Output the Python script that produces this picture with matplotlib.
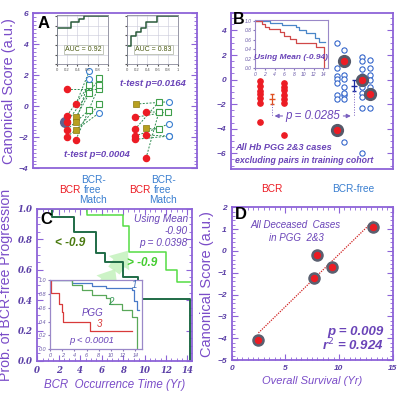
import numpy as np
import matplotlib.pyplot as plt
from matplotlib.ticker import MultipleLocator

plt.rcParams['font.family'] = ['Liberation Sans', 'DejaVu Sans']

# colours
frame_c = '#8d63d8'
tick_c = '#5a3ea6'
lab_c = '#7a4cc8'
red = '#ec1c24'
olive = '#b8a020'
blue = '#3a7fd0'
sq_green = '#3f9f4a'
km_dark = '#1f6b46'
km_light = '#55dd44'

# ---------------- data ----------------
# Panel A, group 1 (training cohort pairs)
g1_bcr = [1.1, 0.15, -0.6, -1.0, -0.7, -1.0, -1.55, -1.5, -1.95, -2.15]
g1_bcr_kind = ['r', 'r', 'r', 'r', 'o', 'o', 'o', 'r', 'r', 'r']
g1_match = [1.1, 2.28, 1.37, 1.8, 0.84, 1.74, 0.13, -0.24, -0.41, 1.37]
g1_match_kind = ['g', 'b', 'g', 'g', 'g', 'b', 'g', 'g', 'b', 'g']
# Panel A, group 2
g2_bcr = [0.15, -0.39, -0.71, -1.42, -1.48, -1.92, -1.85, -3.35, -2.13]
g2_bcr_kind = ['o', 'r', 'r', 'o', 'r', 'r', 'r', 'r', 'r']
g2_match = [0.3, -0.35, -0.35, -1.48, 0.3, -1.14, -1.92, -0.35, -1.92]
g2_match_kind = ['b', 'g', 'g', 'g', 'g', 'b', 'b', 'g', 'b']
a_highlight = -1.0
a_tests = ['t-test p=0.0004', 't-test p=0.0164']

# ROC insets
roc1_fpr = [0, 0, 0.27, 0.27, 0.43, 0.43, 0.52, 0.52, 1]
roc1_tpr = [0, 0.76, 0.76, 0.87, 0.87, 0.93, 0.93, 1, 1]
roc2_fpr = [0, 0, 0.085, 0.085, 0.18, 0.18, 0.28, 0.28, 0.38, 0.38, 0.58, 0.58, 1]
roc2_tpr = [0, 0.37, 0.37, 0.58, 0.58, 0.67, 0.67, 0.76, 0.76, 0.87, 0.87, 1, 1]
auc_labels = ['AUC = 0.92', 'AUC = 0.83']

# Panel B
b_bcr_col1 = [-0.1, -0.51, -0.89, -1.19, -1.52, -1.87, -3.45]
b_bcr_col2 = [-0.24, -0.62, -0.84, -1.25, -1.55, -1.93, -4.51]
b_free_cols = [
    [2.98, 0.93, 0.31, 0.04, -0.24, -1.25, -1.6],
    [2.43, 1.48, 0.39, 0.04, -0.62, -1.25, -1.6, -1.11, -5.06],
    [1.83, 1.48, 0.85, 0.31, -0.02, -0.62, -1.11, -1.4, -2.34, -6.01],
    [1.62, 0.93, 0.39, -0.02, -0.62, -1.16, -2.34],
]
b_big = [(1, 1.48), (2, -0.02), (3, -1.16), (0, -4.1)]
b_mean = [-1.6, -0.5]
b_err = [0.4, 0.45]
b_p = 'p = 0.0285'

# Panel B inset KM
bk_blue_t = [0, 3.1, 5.6, 8.3, 9.0, 10.4, 12.2, 13.2, 14.4]
bk_blue_s = [1.0, 0.95, 0.92, 0.87, 0.81, 0.75, 0.65, 0.56, 0.56]
bk_red_t = [0, 1.4, 2.1, 2.8, 5.2, 5.9, 7.1, 8.3, 12.4, 14.2]
bk_red_s = [1.0, 0.94, 0.88, 0.82, 0.77, 0.68, 0.61, 0.54, 0.45, 0.0]

# Panel C
c_low_t = [0, 1.4, 3.4, 5.5, 6.3, 8.0, 9.4, 14.2]
c_low_s = [1.0, 0.95, 0.85, 0.71, 0.65, 0.555, 0.41, 0.0]
c_high_t = [0, 4.6, 8.0, 8.6, 12.0, 13.0, 14.2]
c_high_s = [1.0, 0.96, 0.89, 0.72, 0.6, 0.52, 0.52]
# Panel C inset (PGG groups)
ci1_t = [0, 3.6, 6.9, 9.1, 13.5, 13.8, 14.2, 14.6]
ci1_s = [1.0, 0.95, 0.92, 0.88, 0.86, 0.69, 0.56, 0.56]
ci2_t = [0, 3.6, 5.2, 6.9, 9.1, 9.9, 11.8, 13.5, 14.3]
ci2_s = [1.0, 0.93, 0.86, 0.78, 0.74, 0.66, 0.57, 0.47, 0.0]
ci3_t = [0, 0.2, 1.4, 1.9, 2.2, 6.6, 13.4]
ci3_s = [1.0, 0.81, 0.66, 0.54, 0.4, 0.26, 0.26]

# Panel D
d_surv = [2.5, 7.7, 8.0, 9.4, 13.2]
d_score = [-4.1, -1.25, -0.2, -0.75, 1.1]


def style(ax):
    for s in ax.spines.values():
        s.set_color(frame_c)
        s.set_linewidth(1.3)
    ax.tick_params(which='both', direction='in', colors=frame_c, top=True, right=True,
                   labelcolor=tick_c, labelsize=6)
    ax.tick_params(which='major', length=4)
    ax.tick_params(which='minor', length=2)
    for t in ax.get_xticklabels() + ax.get_yticklabels():
        t.set_fontweight('bold')
        t.set_fontstyle('italic')


fig = plt.figure(figsize=(4.0, 3.96), dpi=100)

# ================= Panel A =================
axA = fig.add_axes([0.0825, 0.575, 0.41, 0.391])
axA.set_xlim(0, 10)
axA.set_ylim(-4, 6)
axA.yaxis.set_major_locator(MultipleLocator(2))
axA.yaxis.set_minor_locator(MultipleLocator(0.25))
axA.set_xticks([])
style(axA)
axA.tick_params(axis='x', which='both', bottom=False, top=False)


def pair_group(ax, bcr, bkind, bx, match, mkind, mx):
    for i in range(len(bcr)):
        ax.plot([bx[i], mx[i]], [bcr[i], match[i]], ls=(0, (2, 1.5)), color='#2e8a50', lw=0.7, zorder=2)
    for i in range(len(match)):
        if mkind[i] == 'g':
            ax.plot(mx[i], match[i], 's', ms=4.2, mfc='white', mec=sq_green, mew=0.8, zorder=3)
        else:
            ax.plot(mx[i], match[i], 'o', ms=4.3, mfc='white', mec=blue, mew=0.8, zorder=3)
    for i in range(len(bcr)):
        if bkind[i] == 'r':
            ax.plot(bx[i], bcr[i], 'o', ms=4.4, color=red, zorder=4)
        else:
            ax.plot(bx[i], bcr[i], 's', ms=4.6, mfc=olive, mec='#8a7a10', mew=0.5, zorder=4)


g1_bx = [2.07, 2.62, 2.07, 2.07, 2.62, 2.62, 2.62, 2.07, 2.07, 2.62]
g1_mx = [4.05, 3.43, 3.43, 4.05, 3.43, 3.43, 4.05, 3.43, 4.05, 4.05]
g2_bx = [6.28, 6.89, 6.22, 6.89, 6.22, 6.22, 6.89, 6.89, 6.22]
g2_mx = [8.29, 7.68, 8.23, 7.68, 7.68, 8.29, 8.29, 7.68, 8.29]
axA.plot(1.95, a_highlight, 'o', ms=7, color='#5c6390', zorder=3.5)
pair_group(axA, g1_bcr, g1_bcr_kind, g1_bx, g1_match, g1_match_kind, g1_mx)
pair_group(axA, g2_bcr, g2_bcr_kind, g2_bx, g2_match, g2_match_kind, g2_mx)

axA.text(3.9, -3.08, a_tests[0], color='#6a44b8', fontsize=6.8, fontweight='bold',
         style='italic', ha='center', va='center')
axA.text(7.3, 1.5, a_tests[1], color='#6a44b8', fontsize=6.8, fontweight='bold',
         style='italic', ha='center', va='center')
axA.text(0.25, 5.05, 'A', fontsize=12, fontweight='bold', color='black')
axA.set_ylabel('Canonical Score (a.u.)', color=lab_c, fontsize=10.5, labelpad=2)

# category labels under A
for xc in [2.26, 6.52]:
    axA.text(xc, -5.4, 'BCR', color=red, fontsize=7.3, ha='center', va='center')
for xc in [3.66, 7.93]:
    axA.text(xc, -5.4, 'BCR-\nfree\nMatch', color=blue, fontsize=7.3, ha='center',
             va='center', linespacing=1.05)

# ROC insets
for k, (fpr, tpr, left) in enumerate([(roc1_fpr, roc1_tpr, 0.1417), (roc2_fpr, roc2_tpr, 0.3167)]):
    ai = fig.add_axes([left, 0.838, 0.129, 0.124])
    ai.plot(fpr, tpr, color='#2a5a3a', lw=1.1)
    ai.set_xlim(0, 1)
    ai.set_ylim(0, 1.02)
    ai.set_xticks([0, 0.2, 0.4, 0.6, 0.8, 1])
    ai.set_xticklabels(['0', '0.2', '0.4', '0.6', '0.8', '1'])
    ai.set_yticks([0, 0.2, 0.4, 0.6, 0.8, 1])
    ai.set_yticklabels([])
    ai.grid(color='#c8c8d8', lw=0.4)
    ai.tick_params(labelsize=3, length=1.5, pad=1, colors='#555555')
    for s in ai.spines.values():
        s.set_color('#888899')
        s.set_linewidth(0.6)
    ai.text(0.52, 0.3, auc_labels[k], fontsize=5, color='#4a5a10', ha='center', va='center',
            bbox=dict(boxstyle='square,pad=0.15', fc='white', ec='#aab0a0', lw=0.5))

# ================= Panel B =================
axB = fig.add_axes([0.577, 0.5725, 0.4066, 0.394])
axB.set_xlim(0, 10)
axB.set_ylim(-7.3, 5.4)
axB.yaxis.set_major_locator(MultipleLocator(2))
axB.yaxis.set_minor_locator(MultipleLocator(0.5))
axB.set_xticks([])
style(axB)
axB.tick_params(axis='x', which='both', bottom=False, top=False)

bcr_x = [1.78, 3.25]
free_x = [6.5, 6.99, 8.04, 8.53]
axB.plot([bcr_x[0]] * len(b_bcr_col1), b_bcr_col1, 'o', ms=3.8, color=red)
axB.plot([bcr_x[1]] * len(b_bcr_col2), b_bcr_col2, 'o', ms=3.8, color=red)
for xc, col in zip(free_x, b_free_cols):
    axB.plot([xc] * len(col), col, 'o', ms=3.8, mfc='white', mec='#2a5ec8', mew=0.75)
for ci, yv in b_big:
    axB.plot(free_x[ci], yv, 'o', ms=8.5, color='#555a6a', zorder=4)
    axB.plot(free_x[ci], yv, 'o', ms=4.3, color=red, zorder=5)

mean_x = [2.52, 7.55]
axB.errorbar(mean_x[0], b_mean[0], yerr=b_err[0], fmt='_', color='#e05020', ms=4,
             capsize=1.5, lw=0.9)
axB.errorbar(mean_x[1], b_mean[1], yerr=b_err[1], fmt='_', color='#1a2aa0', ms=4,
             capsize=1.5, lw=0.9)
p_y = -2.96
axB.plot([mean_x[0], mean_x[0]], [b_mean[0] - b_err[0], p_y], ls=':', color='#7a60c0', lw=0.7)
axB.plot([mean_x[1], mean_x[1]], [b_mean[1] - b_err[1], p_y], ls=':', color='#7a60c0', lw=0.7)
axB.annotate('', xy=(mean_x[0], p_y), xytext=(3.35, p_y),
             arrowprops=dict(arrowstyle='-|>', color='#7a60c0', lw=0.8, mutation_scale=6))
axB.annotate('', xy=(mean_x[1], p_y), xytext=(6.75, p_y),
             arrowprops=dict(arrowstyle='-|>', color='#7a60c0', lw=0.8, mutation_scale=6))
axB.text(5.05, p_y, b_p, color='#6a44b8', fontsize=8.3, style='italic', ha='center', va='center')
axB.text(0.25, -5.75, 'All Hb PGG 2&3 cases', color='#6a44b8', fontsize=6.6, style='italic',
         fontweight='bold')
axB.text(0.25, -6.75, 'excluding pairs in training cohort', color='#6a44b8', fontsize=6.3,
         style='italic', fontweight='bold')
axB.text(0.15, 4.55, 'B', fontsize=11.5, fontweight='bold', color='black')
axB.text(mean_x[0], -8.9, 'BCR', color=red, fontsize=7.3, ha='center', va='center')
axB.text(mean_x[1], -8.9, 'BCR-free', color=blue, fontsize=7.3, ha='center', va='center')

# B inset
bi = fig.add_axes([0.6375, 0.8275, 0.183, 0.122])
bi.step(bk_blue_t, bk_blue_s, where='post', color='#4a86c8', lw=0.9)
bi.step(bk_red_t, bk_red_s, where='post', color='#d04848', lw=0.9)
bi.set_xlim(0, 15)
bi.set_ylim(0, 1.02)
bi.set_xticks(range(0, 15, 2))
bi.set_yticks([0, 0.2, 0.4, 0.6, 0.8, 1.0])
bi.set_yticklabels(['0.0', '0.2', '0.4', '0.6', '0.8', '1.0'])
bi.tick_params(labelsize=3.6, length=1.5, pad=0.8, colors='#8878b8', labelcolor='#6a5aa8')
for t in bi.get_xticklabels() + bi.get_yticklabels():
    t.set_fontstyle('italic')
for s in bi.spines.values():
    s.set_color('#9a88c8')
    s.set_linewidth(0.8)
bi.text(7.4, 0.23, 'Using Mean (-0.94)', color='#6a44b8', fontsize=6, style='italic',
        fontweight='bold', ha='center', va='center')

# ================= Panel C =================
axC = fig.add_axes([0.0932, 0.0884, 0.386, 0.384])
axC.step(c_low_t, c_low_s, where='post', color=km_dark, lw=1.4)
axC.step(c_high_t, c_high_s, where='post', color=km_light, lw=1.1)
axC.set_xlim(0, 14.4)
axC.set_ylim(0, 1.0)
axC.xaxis.set_major_locator(MultipleLocator(2))
axC.xaxis.set_minor_locator(MultipleLocator(0.5))
axC.yaxis.set_major_locator(MultipleLocator(0.2))
axC.yaxis.set_minor_locator(MultipleLocator(0.05))
axC.yaxis.set_major_formatter(lambda v, p: f'{v:.1f}')
style(axC)
for t in axC.get_xticklabels() + axC.get_yticklabels():
    t.set_fontfamily('DejaVu Serif')
    t.set_fontsize(6.2)
axC.set_ylabel('Prob. of BCR-free Progression', color=lab_c, fontsize=10.2, labelpad=3)
axC.set_xlabel('BCR  Occurrence Time (Yr)', color=lab_c, fontsize=8.3, style='italic', labelpad=3)
axC.text(0.3, 0.9, 'C', fontsize=12, fontweight='bold', color='black')
axC.text(14.05, 0.935, 'Using Mean', color='#6a44b8', fontsize=7.3, style='italic', ha='right', va='center')
axC.text(14.05, 0.855, '-0.90', color='#6a44b8', fontsize=7.3, style='italic', ha='right', va='center')
axC.text(14.05, 0.775, 'p = 0.0398', color='#6a44b8', fontsize=7.3, style='italic', ha='right', va='center')
axC.text(3.1, 0.775, '< -0.9', color='#4a7a10', fontsize=8.5, fontweight='bold', style='italic',
         ha='center', va='center')
axC.text(9.8, 0.645, '> -0.9', color='#44cc30', fontsize=8.5, fontweight='bold', style='italic',
         ha='center', va='center')
for (x0, y0, x1, y1) in [(5.9, 0.45, 7.4, 0.62), (7.0, 0.58, 8.6, 0.74)]:
    axC.annotate('', xy=(x1, y1), xytext=(x0, y0),
                 arrowprops=dict(arrowstyle='simple,head_width=1.8,head_length=1.1,tail_width=1.0',
                                 color='#c4f2bc', alpha=0.85, lw=0), zorder=1)

# C inset
cix = fig.add_axes([0.125, 0.118, 0.229, 0.175])
cix.step(ci1_t, ci1_s, where='post', color='#4a7ac8', lw=0.9)
cix.step(ci2_t, ci2_s, where='post', color='#5aa85a', lw=0.9)
cix.step(ci3_t, ci3_s, where='post', color='#d83a3a', lw=0.9)
cix.set_xlim(0, 15)
cix.set_ylim(0, 1.0)
cix.set_xticks(range(0, 15, 2))
cix.set_yticks([0, 0.2, 0.4, 0.6, 0.8, 1.0])
cix.set_yticklabels(['0.0', '0.2', '0.4', '0.6', '0.8', '1.0'])
cix.tick_params(labelsize=4, length=1.5, pad=1, colors='#8878b8', labelcolor='#6a5aa8')
for t in cix.get_xticklabels() + cix.get_yticklabels():
    t.set_fontstyle('italic')
for s in cix.spines.values():
    s.set_color('#9a88c8')
    s.set_linewidth(0.9)
cix.text(13.8, 0.93, '1', color='#3a6ab8', fontsize=7, style='italic', ha='center', va='center')
cix.text(9.9, 0.68, '2', color='#3a9a5a', fontsize=7, style='italic', ha='center', va='center')
cix.text(6.9, 0.52, 'PGG', color='#6a44b8', fontsize=7, style='italic', ha='center', va='center')
cix.text(8.1, 0.36, '3', color='#d83a3a', fontsize=7, style='italic', ha='center', va='center')
cix.text(6.9, 0.13, 'p < 0.0001', color='#6a44b8', fontsize=6.8, style='italic', ha='center', va='center')

# ================= Panel D =================
axD = fig.add_axes([0.579, 0.0909, 0.4025, 0.3856])
m, c = np.polyfit(d_surv, d_score, 1)
xs = np.array([min(d_surv), max(d_surv)])
axD.plot(xs, m * xs + c, ls=(0, (1, 1)), color='#d02020', lw=0.9)
axD.plot(d_surv, d_score, 'o', ms=8, color='#5a6070', zorder=3)
axD.plot(d_surv, d_score, 'o', ms=4.3, color=red, zorder=4)
axD.set_xlim(0, 15)
axD.set_ylim(-5, 2)
axD.xaxis.set_major_locator(MultipleLocator(5))
axD.xaxis.set_minor_locator(MultipleLocator(0.5))
axD.yaxis.set_major_locator(MultipleLocator(1))
axD.yaxis.set_minor_locator(MultipleLocator(0.2))
style(axD)
axD.set_ylabel('Canonical Score (a.u.)', color=lab_c, fontsize=10.5, labelpad=2)
axD.set_xlabel('Overall Survival (Yr)', color=lab_c, fontsize=8, style='italic', labelpad=3)
axD.text(0.35, 1.45, 'D', fontsize=12, fontweight='bold', color='black')
axD.text(6.0, 0.9, 'All Deceased  Cases\nin PGG  2&3', color='#6a44b8', fontsize=7,
         style='italic', ha='center', va='center', linespacing=1.3)
axD.text(14.2, -3.7, 'p = 0.009', color='#6a44b8', fontsize=9.5, style='italic',
         fontweight='bold', ha='right', va='center')
axD.text(14.2, -4.3, 'r$^2$ = 0.924', color='#6a44b8', fontsize=9.5, style='italic',
         fontweight='bold', ha='right', va='center')

fig.savefig('out.png', dpi=100)
